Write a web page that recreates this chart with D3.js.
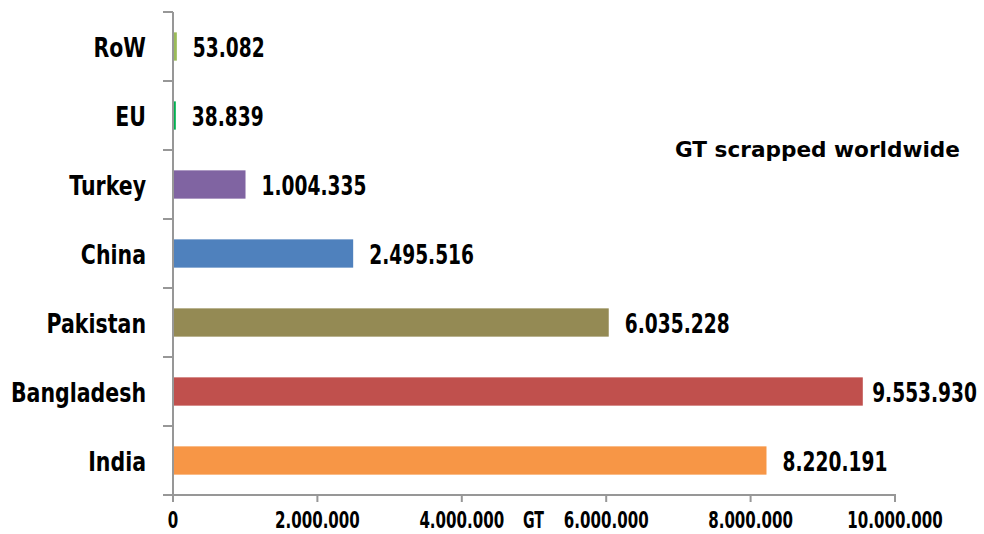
<!DOCTYPE html>
<html><head><meta charset="utf-8">
<script src="https://cdn.jsdelivr.net/npm/d3@7"></script>
<style>
body{margin:0;background:#fff;}
text{font-family:"DejaVu Sans",sans-serif;font-weight:bold;fill:#000;}
</style></head>
<body><svg id="c" width="984" height="534"></svg>
<script>
const categories = ["India","Bangladesh","Pakistan","China","Turkey","EU","RoW"];
const values = [8220191, 9553930, 6035228, 2495516, 1004335, 38839, 53082];
const valueLabels = ["8.220.191","9.553.930","6.035.228","2.495.516","1.004.335","38.839","53.082"];
const colors = ["#F79646","#C0504D","#948A54","#4F81BD","#8064A2","#00B050","#9BBB59"];
const xTicks = [0,2000000,4000000,6000000,8000000,10000000];
const xTickLabels = ["0","2.000.000","4.000.000","6.000.000","8.000.000","10.000.000"];
const title = "GT scrapped worldwide";
const axisTitle = "GT";

const W = 984;
const svg = d3.select("#c");
const x0 = 173, x1 = 895, yTop = 12, yBot = 495;
const x = d3.scaleLinear().domain([0,10000000]).range([x0,x1]);
const y = d3.scaleBand().domain(categories).range([yBot,yTop]).paddingInner(0.59).paddingOuter(0.295);
const yb = d3.scaleBand().domain(categories).range([yBot,yTop]);
const axisColor = "#979797";

function ctext(px, py, str, size, sx, anchor){
  return svg.append("text")
    .attr("transform", `translate(${px},${py}) scale(${sx},1)`)
    .attr("font-size", size)
    .attr("text-anchor", anchor || "start")
    .text(str);
}

// bars
svg.selectAll("rect.bar").data(categories).join("rect")
  .attr("class","bar")
  .attr("x", x(0)+1).attr("y", d=>y(d))
  .attr("width", (d,i)=>Math.max(0,x(values[i])-x(0)-1))
  .attr("height", y.bandwidth())
  .attr("fill", (d,i)=>colors[i]);

// axes
svg.append("line").attr("x1",x0).attr("x2",x0).attr("y1",yTop).attr("y2",yBot)
  .attr("stroke",axisColor).attr("stroke-width",2);
const bounds = categories.map(d=>yb(d)).concat([yBot]);
svg.selectAll("line.yt").data(bounds).join("line")
  .attr("class","yt")
  .attr("x1",x0-10).attr("x2",x0).attr("y1",d=>d).attr("y2",d=>d)
  .attr("stroke",axisColor).attr("stroke-width",2);
svg.append("line").attr("x1",x0-10).attr("x2",x1+1).attr("y1",yBot).attr("y2",yBot)
  .attr("stroke",axisColor).attr("stroke-width",2);
svg.selectAll("line.xt").data(xTicks).join("line")
  .attr("class","xt")
  .attr("x1",d=>x(d)).attr("x2",d=>x(d)).attr("y1",yBot).attr("y2",yBot+7)
  .attr("stroke",axisColor).attr("stroke-width",2);

// x tick labels
xTicks.forEach((t,i)=>ctext(x(t), 528, xTickLabels[i], 22.5, 0.67, "middle"));
ctext(533.5, 528, axisTitle, 22.5, 0.63, "middle");

// category labels
categories.forEach(c=>ctext(146, y(c)+y.bandwidth()/2+10, c, 27, 0.76, "end"));

// value labels
categories.forEach((c,i)=>{
  const py = y(c)+y.bandwidth()/2+10;
  const t = ctext(x(values[i])+16, py, valueLabels[i], 27, 0.69, "start");
  const w = t.node().getComputedTextLength()*0.69;
  let px = x(values[i])+16;
  if (px + w > W - 7) px = W - 7 - w;
  t.attr("transform", `translate(${px},${py}) scale(0.69,1)`);
});

// title
ctext(675, 157, title, 21, 1.03, "start");
</script></body></html>
